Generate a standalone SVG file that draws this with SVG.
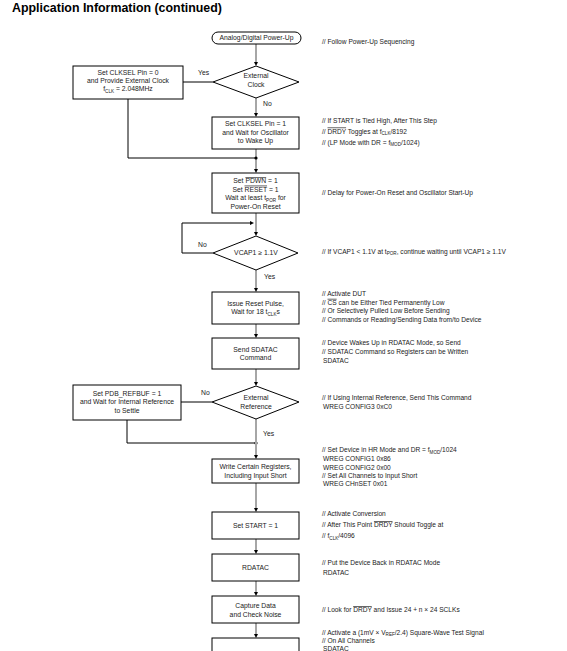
<svg xmlns="http://www.w3.org/2000/svg" width="567" height="651" viewBox="0 0 567 651">
<style>
.bg{fill:#fff}
.box{fill:#fff;stroke:#000;stroke-width:1}
.t{font-family:"Liberation Sans",Arial,sans-serif;font-size:6.8px;fill:#1a1a1a;text-anchor:middle}
.a{font-family:"Liberation Sans",Arial,sans-serif;font-size:6.6px;fill:#1a1a1a}
.l{font-family:"Liberation Sans",Arial,sans-serif;font-size:6.8px;fill:#1a1a1a}
.title{font-family:"Liberation Sans",Arial,sans-serif;font-size:12.4px;font-weight:bold;fill:#000}
.main{stroke:#a6a6a6;stroke-width:2;fill:none}
.side{stroke:#000;stroke-width:1;fill:none}
.sub{font-size:4.6px}
.ov{text-decoration:overline}
</style>
<defs>
<marker id="ah" markerUnits="userSpaceOnUse" markerWidth="4" markerHeight="4" refX="1" refY="2" orient="auto">
<path d="M0,0 L4,2 L0,4 Z" fill="#000"/>
</marker>
</defs>
<rect class="bg" x="0" y="0" width="567" height="651"/>
<text class="title" x="12" y="12">Application Information (continued)</text>

<g id="connectors">
<line class="main" x1="256" y1="44" x2="256" y2="63" marker-end="url(#ah)"/>
<line class="main" x1="256" y1="98" x2="256" y2="114" marker-end="url(#ah)"/>
<line class="main" x1="256" y1="149" x2="256" y2="170" marker-end="url(#ah)"/>
<polyline class="side" points="213,82 183,82"/>
<polyline class="side" points="128,99 128,158 256,158"/>
<circle cx="256" cy="158" r="1.6" fill="#000"/>
<line class="main" x1="256" y1="213" x2="256" y2="233" marker-end="url(#ah)"/>
<polyline class="side" points="213,253 182,253 182,223 251,223" marker-end="url(#ah)"/>
<line class="main" x1="256" y1="270" x2="256" y2="289" marker-end="url(#ah)"/>
<line class="main" x1="256" y1="324" x2="256" y2="335" marker-end="url(#ah)"/>
<line class="main" x1="256" y1="369" x2="256" y2="383" marker-end="url(#ah)"/>
<polyline class="side" points="212,402 181,402"/>
<polyline class="side" points="127,420 127,443 256,443"/>
<circle cx="256" cy="443" r="1.6" fill="#000"/>
<line class="main" x1="256" y1="419" x2="256" y2="456" marker-end="url(#ah)"/>
<line class="main" x1="256" y1="483" x2="256" y2="509" marker-end="url(#ah)"/>
<line class="main" x1="256" y1="539" x2="256" y2="551" marker-end="url(#ah)"/>
<line class="main" x1="256" y1="581" x2="256" y2="593" marker-end="url(#ah)"/>
<line class="main" x1="256" y1="623" x2="256" y2="635" marker-end="url(#ah)"/>
<text class="l" x="198" y="74.5">Yes</text>
<text class="l" x="263" y="105.5">No</text>
<text class="l" x="198" y="246.5">No</text>
<text class="l" x="264" y="278.5">Yes</text>
<text class="l" x="201" y="394.5">No</text>
<text class="l" x="263" y="435.5">Yes</text>
</g>

<g id="start">
<rect class="box" x="212" y="32" width="89" height="12" rx="6"/>
<text class="t" x="256.5" y="40.4">Analog/Digital Power-Up</text>
</g>

<g id="ext-clock">
<polygon class="box" points="256,66 299,82 256,98 213,82"/>
<text class="t" x="256" y="78.4">External</text>
<text class="t" x="256" y="86.8">Clock</text>
</g>

<g id="clksel0">
<rect class="box" x="73" y="66" width="110" height="33"/>
<text class="t" x="128" y="75.4">Set CLKSEL Pin = 0</text>
<text class="t" x="128" y="83.4">and Provide External Clock</text>
<text class="t" x="128" y="91.4">f<tspan class="sub" dy="1.6">CLK</tspan><tspan dy="-1.6"> = 2.048MHz</tspan></text>
</g>

<g id="clksel1">
<rect class="box" x="212" y="117" width="87" height="32"/>
<text class="t" x="255.5" y="126.4">Set CLKSEL Pin = 1</text>
<text class="t" x="255.5" y="134.6">and Wait for Oscillator</text>
<text class="t" x="255.5" y="143">to Wake Up</text>
</g>

<g id="pdwn">
<rect class="box" x="212" y="173" width="87" height="40"/>
<text class="t" x="255.5" y="183.4">Set <tspan class="ov">PDWN</tspan> = 1</text>
<text class="t" x="255.5" y="191.6">Set <tspan class="ov">RESET</tspan> = 1</text>
<text class="t" x="255.5" y="200.4">Wait at least t<tspan class="sub" dy="1.6">POR</tspan><tspan dy="-1.6"> for</tspan></text>
<text class="t" x="255.5" y="209.4">Power-On Reset</text>
</g>

<g id="vcap1">
<polygon class="box" points="256,236 298,253 256,270 213,253"/>
<text class="t" x="256" y="255.4">VCAP1 &#8805; 1.1V</text>
</g>

<g id="reset-pulse">
<rect class="box" x="212" y="292" width="87" height="32"/>
<text class="t" x="255.5" y="306.4">Issue Reset Pulse,</text>
<text class="t" x="255.5" y="314.4">Wait for 18 t<tspan class="sub" dy="1.6">CLK</tspan><tspan dy="-1.6">s</tspan></text>
</g>

<g id="sdatac">
<rect class="box" x="212" y="338" width="87" height="31"/>
<text class="t" x="255.5" y="352.4">Send SDATAC</text>
<text class="t" x="255.5" y="360.4">Command</text>
</g>

<g id="ext-ref">
<polygon class="box" points="256,386 299,402 256,419 212,402"/>
<text class="t" x="256" y="400.4">External</text>
<text class="t" x="256" y="409">Reference</text>
</g>

<g id="pdb-refbuf">
<rect class="box" x="73" y="385" width="108" height="35"/>
<text class="t" x="127" y="396.4">Set PDB_REFBUF = 1</text>
<text class="t" x="127" y="404.4">and Wait for Internal Reference</text>
<text class="t" x="127" y="413">to Settle</text>
</g>

<g id="write-regs">
<rect class="box" x="212" y="459" width="87" height="24"/>
<text class="t" x="255.5" y="469.4">Write Certain Registers,</text>
<text class="t" x="255.5" y="477.6">Including Input Short</text>
</g>

<g id="start1">
<rect class="box" x="212" y="512" width="87" height="27"/>
<text class="t" x="255.5" y="528">Set START = 1</text>
</g>

<g id="rdatac">
<rect class="box" x="212" y="554" width="87" height="27"/>
<text class="t" x="255.5" y="570.2">RDATAC</text>
</g>

<g id="capture">
<rect class="box" x="212" y="596" width="87" height="27"/>
<text class="t" x="255.5" y="608.4">Capture Data</text>
<text class="t" x="255.5" y="616.6">and Check Noise</text>
</g>

<g id="next">
<rect class="box" x="212" y="638" width="87" height="30"/>
</g>

<g id="annotations">
<text class="a" x="322" y="44.3">// Follow Power-Up Sequencing</text>
<text class="a" x="322" y="122.5">// If START is Tied High, After This Step</text>
<text class="a" x="322" y="133.5">// <tspan class="ov">DRDY</tspan> Toggles at f<tspan class="sub" dy="1.5">CLK</tspan><tspan dy="-1.5">/8192</tspan></text>
<text class="a" x="322" y="144.5">// (LP Mode with DR = f<tspan class="sub" dy="1.5">MOD</tspan><tspan dy="-1.5">/1024)</tspan></text>
<text class="a" x="322" y="195.3">// Delay for Power-On Reset and Oscillator Start-Up</text>
<text class="a" x="322" y="253.8">// If VCAP1 &lt; 1.1V at t<tspan class="sub" dy="1.5">POR</tspan><tspan dy="-1.5">, continue waiting until VCAP1 &#8805; 1.1V</tspan></text>
<text class="a" x="322" y="295.8">// Activate DUT</text>
<text class="a" x="322" y="304.8">// <tspan class="ov">CS</tspan> can be Either Tied Permanently Low</text>
<text class="a" x="322" y="313.3">// Or Selectively Pulled Low Before Sending</text>
<text class="a" x="322" y="321.8">// Commands or Reading/Sending Data from/to Device</text>
<text class="a" x="322" y="345.3">// Device Wakes Up in RDATAC Mode, so Send</text>
<text class="a" x="322" y="354.3">// SDATAC Command so Registers can be Written</text>
<text class="a" x="323" y="363">SDATAC</text>
<text class="a" x="322" y="400.3">// If Using Internal Reference, Send This Command</text>
<text class="a" x="323" y="409">WREG CONFIG3 0xC0</text>
<text class="a" x="322" y="452.3">// Set Device in HR Mode and DR = f<tspan class="sub" dy="1.5">MOD</tspan><tspan dy="-1.5">/1024</tspan></text>
<text class="a" x="323" y="461.3">WREG CONFIG1 0x86</text>
<text class="a" x="323" y="470">WREG CONFIG2 0x00</text>
<text class="a" x="322" y="478.3">// Set All Channels to Input Short</text>
<text class="a" x="323" y="486.3">WREG CHnSET 0x01</text>
<text class="a" x="322" y="516">// Activate Conversion</text>
<text class="a" x="322" y="527">// After This Point <tspan class="ov">DRDY</tspan> Should Toggle at</text>
<text class="a" x="322" y="538">// f<tspan class="sub" dy="1.5">CLK</tspan><tspan dy="-1.5">/4096</tspan></text>
<text class="a" x="322" y="565.3">// Put the Device Back in RDATAC Mode</text>
<text class="a" x="323" y="575">RDATAC</text>
<text class="a" x="322" y="612.3">// Look for <tspan class="ov">DRDY</tspan> and Issue 24 + n &#215; 24 SCLKs</text>
<text class="a" x="322" y="634.5">// Activate a (1mV &#215; V<tspan class="sub" dy="1.5">REF</tspan><tspan dy="-1.5">/2.4) Square-Wave Test Signal</tspan></text>
<text class="a" x="322" y="643">// On All Channels</text>
<text class="a" x="323" y="650.5">SDATAC</text>
</g>
</svg>
